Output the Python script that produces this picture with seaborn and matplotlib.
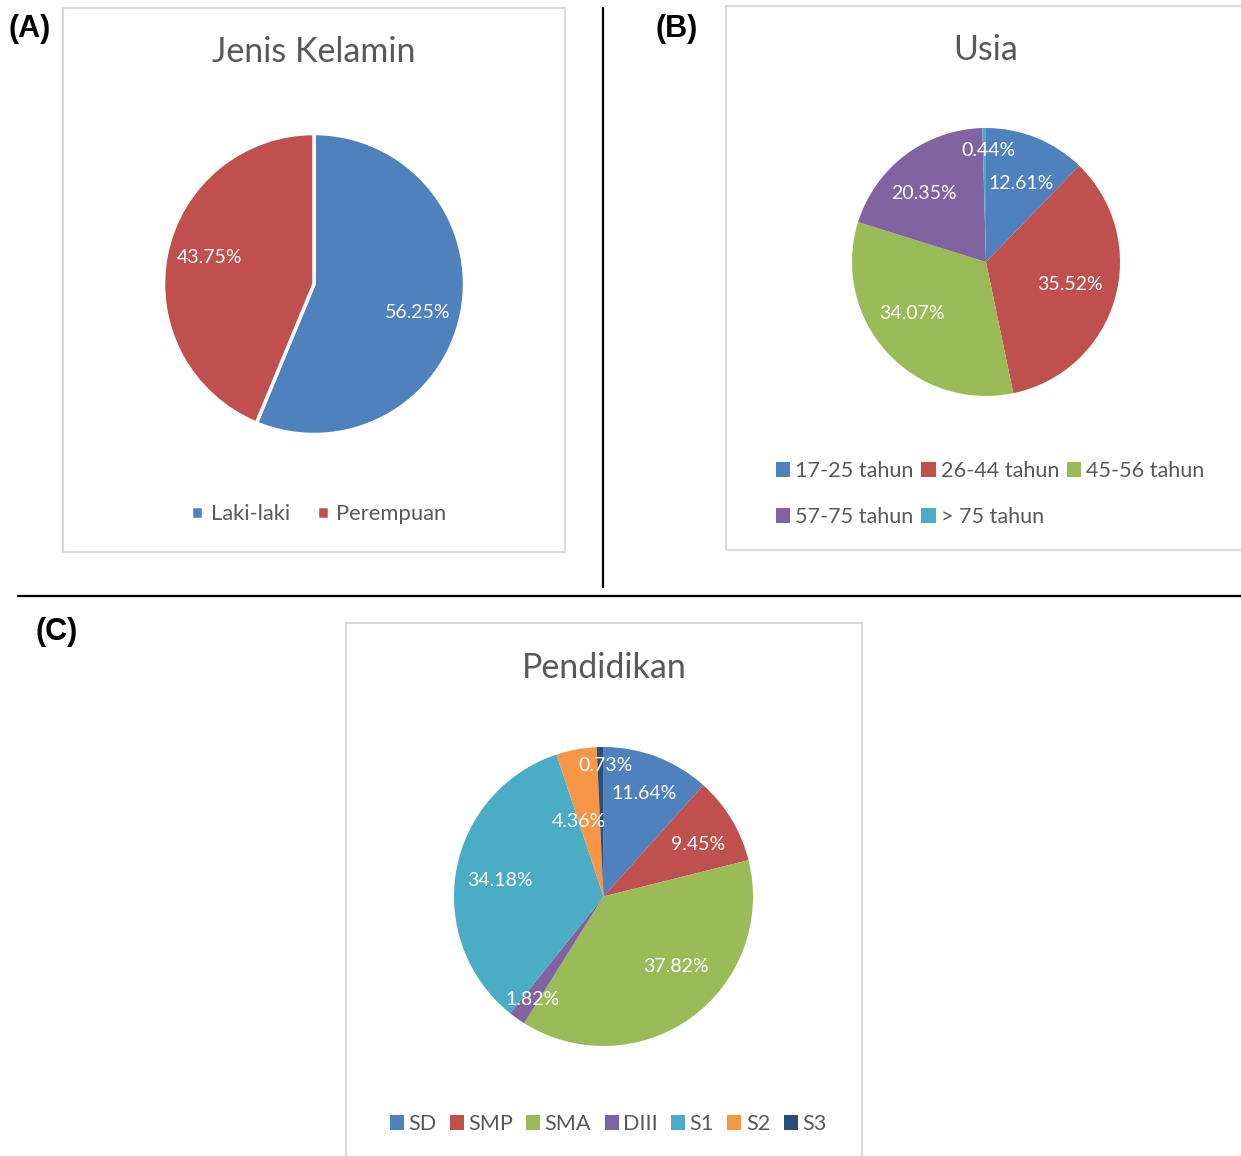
import matplotlib
matplotlib.use("Agg")
import numpy as np
import matplotlib.pyplot as plt
import seaborn as sns
from matplotlib.patches import Rectangle
from matplotlib.lines import Line2D

# ---------------- data ----------------
gender_labels = ["Laki-laki", "Perempuan"]
gender_values = [56.25, 43.75]

age_labels = ["17-25 tahun", "26-44 tahun", "45-56 tahun", "57-75 tahun", "> 75 tahun"]
age_values = [12.61, 35.52, 34.07, 20.35, 0.44]

edu_labels = ["SD", "SMP", "SMA", "DIII", "S1", "S2", "S3"]
edu_values = [11.64, 9.45, 37.82, 1.82, 34.18, 4.36, 0.73]

# label placement (radius fraction, angle shift in degrees) - layout only
gender_lab_r = [0.717, 0.714]
gender_lab_dt = [-4.3, -3.3]
age_lab_r = [0.645, 0.65, 0.67, 0.69, 0.83]
age_lab_dt = [-1.9, 0.9, -7.6, 4.8, -1.8]
edu_lab_r = [0.743, 0.72, 0.676, 0.84, 0.70, 0.525, 0.873]
edu_lab_dt = [-0.5, -2.5, 9.8, 0.75, 1.6, 7.7, -2.0]

# ---------------- style ----------------
sns.set_theme(style="white")
plt.rcParams["font.family"] = ["Lato", "DejaVu Sans"]

BLUE, RED, GREEN, PURPLE, TEAL, ORANGE, NAVY = (
    "#4F81BD", "#C0504D", "#9BBB59", "#8064A2", "#4BACC6", "#F79646", "#2C4D75")
gender_colors = [BLUE, RED]
age_colors = [BLUE, RED, GREEN, PURPLE, TEAL]
edu_colors = [BLUE, RED, GREEN, PURPLE, TEAL, ORANGE, NAVY]
GREY_TXT = "#595959"

W, H = 1241, 1156
fig = plt.figure(figsize=(W / 100, H / 100), dpi=100)
fig.patch.set_facecolor("white")


def fx(x):
    return x / W


def fy(y):
    return 1 - y / H


def box(x0, y0, x1, y1):
    fig.add_artist(Rectangle((fx(x0), fy(y1)), fx(x1) - fx(x0), fy(y0) - fy(y1),
                             transform=fig.transFigure, fill=False,
                             edgecolor="#D9D9D9", linewidth=1.5))


def pie_axes(cx, cy, R, values, colors, label_r, label_dt, edge=None, lw=0):
    pad = 1.1
    ax = fig.add_axes([fx(cx - pad * R), fy(cy + pad * R), 2 * pad * R / W, 2 * pad * R / H])
    wp = {"linewidth": lw, "edgecolor": edge if edge else "none"}
    wedges, _, autotexts = ax.pie(values, colors=colors, startangle=90, counterclock=False,
                                  autopct="%1.1f", pctdistance=0.7, wedgeprops=wp,
                                  textprops={"color": "white", "fontsize": 14})
    for w, t, v, r, dt in zip(wedges, autotexts, values, label_r, label_dt):
        mid = np.deg2rad((w.theta1 + w.theta2) / 2 + dt)
        t.set_position((r * np.cos(mid), r * np.sin(mid)))
        t.set_text(f"{v:.2f}%")
    ax.set_xlim(-pad, pad)
    ax.set_ylim(-pad, pad)
    ax.set_aspect("equal")
    ax.axis("off")
    return wedges


# ---------------- frames & dividers ----------------
box(63, 8, 565, 552)
box(726, 6, 1245, 550)
box(346, 623, 862, 1160)
fig.add_artist(Line2D([fx(603), fx(603)], [fy(8), fy(587)], transform=fig.transFigure,
                      color="black", linewidth=1.6))
fig.add_artist(Line2D([fx(18), fx(1241)], [fy(596), fy(596)], transform=fig.transFigure,
                      color="black", linewidth=1.6))

for lab, x, y in [("(A)", 30, 29), ("(B)", 677, 29), ("(C)", 57, 632)]:
    fig.text(fx(x), fy(y), lab, ha="center", va="center", fontsize=22, fontweight="bold",
             family=["Liberation Sans", "DejaVu Sans"], color="black")

# ---------------- (A) ----------------
fig.text(fx(314), fy(52), "Jenis Kelamin", ha="center", va="center", fontsize=24.5, color=GREY_TXT)
wa = pie_axes(314, 284, 150.5, gender_values, gender_colors, gender_lab_r, gender_lab_dt,
              edge="white", lw=2.5)
fig.legend(wa, gender_labels, loc="center", bbox_to_anchor=(fx(319), fy(514)), ncol=2,
           frameon=False, fontsize=15.8, handlelength=0.55, handleheight=0.55,
           handletextpad=0.35, columnspacing=1.2, borderpad=0, borderaxespad=0,
           labelcolor=GREY_TXT)

# ---------------- (B) ----------------
fig.text(fx(986), fy(50), "Usia", ha="center", va="center", fontsize=24.5, color=GREY_TXT)
wb = pie_axes(986, 262, 134, age_values, age_colors, age_lab_r, age_lab_dt)
order = [0, 3, 1, 4, 2]
fig.legend([wb[i] for i in order], [age_labels[i] for i in order], loc="center left",
           bbox_to_anchor=(fx(776), fy(494)), ncol=3, frameon=False, fontsize=15.6,
           handlelength=0.65, handleheight=0.65, handletextpad=0.25, columnspacing=0.35,
           labelspacing=1.2, borderpad=0, borderaxespad=0, labelcolor=GREY_TXT)

# ---------------- (C) ----------------
fig.text(fx(604), fy(668), "Pendidikan", ha="center", va="center", fontsize=24.5, color=GREY_TXT)
wc = pie_axes(603.5, 896.5, 149.5, edu_values, edu_colors, edu_lab_r, edu_lab_dt)
fig.legend(wc, edu_labels, loc="center", bbox_to_anchor=(fx(608), fy(1124)), ncol=7,
           frameon=False, fontsize=15.6, handlelength=0.65, handleheight=0.65,
           handletextpad=0.2, columnspacing=0.62, borderpad=0, borderaxespad=0,
           labelcolor=GREY_TXT)

fig.savefig("out.png", dpi=100, facecolor="white")
